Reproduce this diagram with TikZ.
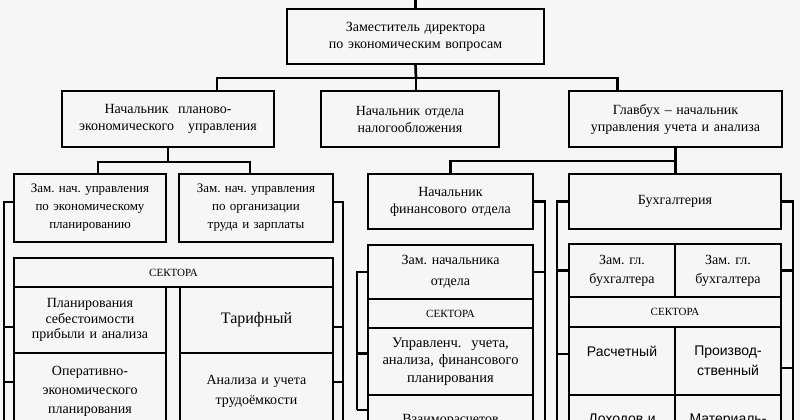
\documentclass[tikz,border=0pt]{standalone}
\usepackage{fontspec}
\setmainfont{Liberation Serif}
\setsansfont{Liberation Sans}
\usepackage{tikz}
\usetikzlibrary{positioning}
\definecolor{bgcolor}{RGB}{246,246,246}
\frenchspacing

\begin{document}
\begin{tikzpicture}[
    x=1pt, y=-1pt,
    box/.style={draw, line width=2.7pt, inner sep=0pt, outer sep=0pt, align=center,
                font=\fontsize{14}{17}\selectfont},
    small/.style={box, font=\fontsize{13}{18}\selectfont},
    sect/.style={box, font=\fontsize{11}{13}\selectfont},
    sans/.style={box, font=\sffamily\fontsize{14}{20}\selectfont},
    link/.style={line width=2.7pt}
]
    \useasboundingbox (0,0) rectangle (800,420);
    \clip (0,0) rectangle (800,420);
    \fill[bgcolor] (0,0) rectangle (800,420);

    % Top
    \node[box, anchor=north west, text width=257pt, minimum height=55pt] (top) at (287,9)
        {Заместитель директора\\по экономическим вопросам};
    \coordinate (up) at (416,-5);

    % Heads of departments
    \node[box, anchor=north west, text width=212pt, minimum height=56pt] (plan) at (62,91)
        {Начальник\ \ планово-\\экономического\ \ \ управления};
    \node[box, right=47pt of plan, text width=178pt, minimum height=56pt] (tax)
        {Начальник отдела\\налогообложения};
    \node[box, right=70pt of tax, text width=213pt, minimum height=56pt] (chief)
        {Главбух – начальник\\управления учета и анализа};

    % Planning section
    \node[small, anchor=north west, text width=152pt, minimum height=68pt] (zamEcon) at (14,174)
        {Зам. нач. управления\\по экономическому\\планированию};
    \node[small, right=13pt of zamEcon, text width=154pt, minimum height=68pt] (zamTrud)
        {Зам. нач. управления\\по организации\\труда и зарплаты};
    \node[sect, anchor=north west, text width=319pt, minimum height=29pt] (sectL) at (14,258) {СЕКТОРА};
    \node[box, below right=0pt and 0pt of sectL.south west, text width=152pt, minimum height=66pt,
          font=\fontsize{14}{15.5}\selectfont] (cost)
        {Планирования\\себестоимости\\прибыли и анализа};
    \node[box, right=14pt of cost, text width=153pt, minimum height=66pt,
          font=\fontsize{16}{19}\selectfont] (tariff) {Тарифный};
    \node[box, below=0pt of cost, text width=152pt, minimum height=77pt,
          font=\fontsize{14}{19}\selectfont] (oper)
        {Оперативно-\\экономического\\планирования};
    \node[box, below=0pt of tariff, text width=153pt, minimum height=77pt,
          font=\fontsize{14}{20}\selectfont] (labor)
        {Анализа и учета\\трудоёмкости};

    % Finance section
    \node[box, anchor=north west, text width=165pt, minimum height=55pt] (fin) at (368,174)
        {Начальник\\финансового отдела};
    \node[box, below=16pt of fin, text width=165pt, minimum height=54pt,
          font=\fontsize{14}{21}\selectfont] (zamFin) {Зам. начальника\\отдела};
    \node[sect, below=0pt of zamFin, text width=165pt, minimum height=29pt] (sectM) {СЕКТОРА};
    \node[box, below=0pt of sectM, text width=165pt, minimum height=67pt,
          font=\fontsize{14.5}{17.5}\selectfont] (mgmt)
        {Управленч.\ \ учета,\\анализа, финансового\\планирования};
    \node[box, below=0pt of mgmt, text width=165pt, minimum height=50pt] (settle) {Взаиморасчетов};

    % Accounting section
    \node[box, anchor=north west, text width=212pt, minimum height=55pt] (acct) at (569,174) {Бухгалтерия};
    \node[box, below right=15pt and 0pt of acct.south west, text width=106pt, minimum height=53pt,
          font=\fontsize{14}{19}\selectfont] (dep1) {Зам. гл.\\бухгалтера};
    \node[box, right=0pt of dep1, text width=106pt, minimum height=53pt,
          font=\fontsize{14}{19}\selectfont] (dep2) {Зам. гл.\\бухгалтера};
    \node[sect, below right=0pt and 0pt of dep1.south west, text width=212pt, minimum height=30pt] (sectR) {СЕКТОРА};
    \node[sans, below right=0pt and 0pt of sectR.south west, text width=106pt, minimum height=68pt] (calc)
        {Расчетный\\\mbox{}};
    \node[sans, right=0pt of calc, text width=106pt, minimum height=68pt] (prod) {Производ-\\ственный};
    \node[sans, below=0pt of calc, text width=106pt, minimum height=50pt] (income) {Доходов и};
    \node[sans, right=0pt of income, text width=106pt, minimum height=50pt] (mater) {Материаль-};

    % Tree links
    \coordinate (bus1) at (416,78);
    \coordinate (bus2) at (168,162);
    \coordinate (bus3) at (676,161);
    \draw[link] (top.north) -- (top.north |- up);
    \draw[link] (top.south) -- (bus1);
    \draw[link] ([xshift=49pt]plan.north) |- (bus1) -| ([xshift=-58pt]chief.north);
    \draw[link] (bus1) -- (bus1 |- tax.north);
    \draw[link] (plan.south) -- (bus2);
    \draw[link] ([xshift=8pt]zamEcon.north) |- (bus2) -| ([xshift=-6pt]zamTrud.north);
    \draw[link] (chief.south) -- (chief.south |- acct.north);
    \draw[link] (fin.north) |- (bus3);

    % Side brackets
    \coordinate (llb) at (4,440);
    \coordinate (lrb) at (343,440);
    \coordinate (mlb) at (357,410);
    \coordinate (mrb) at (545,440);
    \coordinate (rlb) at (557,440);
    \coordinate (rrb) at (793,440);
    \draw[link] ([yshift=6pt]zamEcon.west) -| (llb);
    \draw[link] ([yshift=-7pt]cost.west) -| (llb);
    \draw[link] ([yshift=9.5pt]oper.west) -| (llb);
    \draw[link] ([yshift=6pt]zamTrud.east) -| (lrb);
    \draw[link] ([yshift=-7pt]tariff.east) -| (lrb);
    \draw[link] ([yshift=9.5pt]labor.east) -| (lrb);
    \draw[link] (zamFin.west) -| (mlb);
    \draw[link] ([yshift=8pt]mgmt.west) -| (mlb);
    \draw[link] (mlb) -- (mlb -| settle.west);
    \draw[link] (fin.east) -| (mrb);
    \draw[link] (zamFin.east) -| (mrb);
    \draw[link] (acct.west) -| (rlb);
    \draw[link] (dep1.west) -| (rlb);
    \draw[link] ([yshift=7pt]calc.west) -| (rlb);
    \draw[link] (acct.east) -| (rrb);
    \draw[link] (dep2.east) -| (rrb);
    \draw[link] ([yshift=-7pt]prod.east) -| (rrb);

\end{tikzpicture}
\end{document}
